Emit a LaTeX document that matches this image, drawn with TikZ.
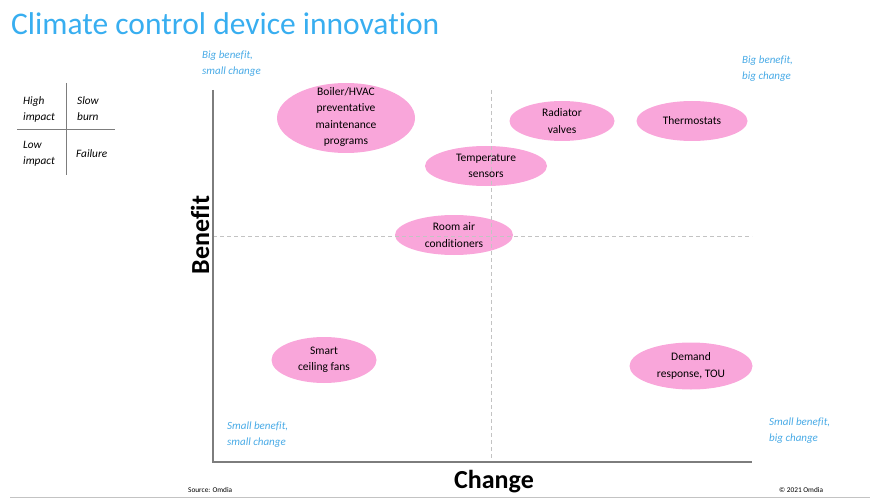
\documentclass[tikz,border=0pt]{standalone}
\usepackage{fontspec}
\setmainfont{Carlito}[Ligatures=NoCommon]
\usepackage{tikz}
\usetikzlibrary{shapes.geometric, positioning, calc}
\definecolor{titleblue}{RGB}{56, 174, 240}
\definecolor{cornerblue}{RGB}{72, 170, 230}
\definecolor{bubblepink}{RGB}{249, 166, 218}
\definecolor{axisgray}{RGB}{125, 125, 125}
\definecolor{gridgray}{RGB}{195, 195, 195}

\begin{document}
\begin{tikzpicture}[
      x=1pt, y=-1pt,
      bubble/.style  = {ellipse, fill=bubblepink, inner sep=0pt},
      bubtxt/.style  = {font=\fontsize{11.5}{16.2}\selectfont, align=center, inner sep=0pt},
      corner/.style  = {font=\fontsize{11}{16}\selectfont\itshape, color=cornerblue,
                        align=left, anchor=north west, inner sep=0pt},
      legtxt/.style  = {font=\fontsize{11.3}{16}\selectfont\itshape, align=left,
                        anchor=west, inner sep=0pt},
      axis/.style    = {draw=axisgray, line width=1.1pt},
      midline/.style = {draw=gridgray, line width=0.8pt, dash pattern=on 4pt off 3pt},
      axlbl/.style   = {font=\fontsize{26}{26}\selectfont\bfseries, inner sep=0pt},
      foot/.style    = {font=\fontsize{7.3}{8}\selectfont, anchor=west, inner sep=0pt},
    ]
    \useasboundingbox (0,0) rectangle (870,500);

    % --- Grenzen der Matrix ---
    \def\xAxis{213}
    \def\yAxis{462}
    \def\xMid{491}
    \def\yMid{236}
    \def\xEnd{752}
    \def\yTop{90}

    % --- Titel ---
    \node[font=\fontsize{31.5}{32}\selectfont, color=titleblue, anchor=base west, inner sep=0pt]
      (title) at (11,35) {Climate control device innovation};

    % --- Legende ---
    \coordinate (legtop) at (66,83);
    \coordinate (legbot) at (66,175);
    \coordinate (legleft) at (17,129);
    \coordinate (legright) at (115,129);
    \draw[axisgray, line width=0.8pt] (legtop) -- (legbot);
    \draw[axisgray, line width=0.8pt] (legleft) -- (legright);
    \node[legtxt] (high) at (23,109) {High\\impact};
    \node[legtxt] (slow) at (77,109) {Slow\\burn};
    \node[legtxt] (low)  at (23,154) {Low\\impact};
    \node[legtxt] (fail) at (76,154) {Failure};

    % --- Ecken ---
    \node[corner] (bbsc) at (202,51)  {Big benefit,\\small change};
    \node[corner] (bbbc) at (742,56)  {Big benefit,\\big change};
    \node[corner] (sbsc) at (227,422) {Small benefit,\\small change};
    \node[corner] (sbbc) at (769,418) {Small benefit,\\big change};

    % --- Blasen (erst Flaeche) ---
    \node[bubble, minimum width=138pt, minimum height=70pt] (boiler) at (346,118) {};
    \node[bubble, minimum width=105pt, minimum height=40pt] (radiator) at (562,121) {};
    \node[bubble, minimum width=111pt, minimum height=40pt] (thermo) at (692,121) {};
    \node[bubble, minimum width=122pt, minimum height=40pt] (sensors) at (486,166) {};
    \node[bubble, minimum width=118pt, minimum height=40pt] (roomac) at (454,235) {};
    \node[bubble, minimum width=105pt, minimum height=46pt] (fans) at (324,360) {};
    \node[bubble, minimum width=123pt, minimum height=47pt] (demand) at (691,366) {};

    % --- Achsen und Mittellinien ---
    \coordinate (ytop)  at (\xAxis,\yTop);
    \coordinate (orig)  at (\xAxis,\yAxis);
    \coordinate (xend)  at (\xEnd,\yAxis);
    \coordinate (mtop)  at (\xMid,\yTop);
    \coordinate (mbot)  at (\xMid,\yAxis);
    \coordinate (mleft) at (\xAxis,\yMid);
    \coordinate (mright) at (\xEnd,\yMid);
    \draw[midline] (mtop) -- (mbot);
    \draw[midline] (mleft) -- (mright);
    \draw[axis] (ytop) -- (orig) -- (xend);

    % --- Blasen (Text) ---
    \node[bubtxt] at ([yshift=1pt]boiler.center)   {Boiler/HVAC\\preventative\\maintenance\\programs};
    \node[bubtxt] at (radiator) {Radiator\\valves};
    \node[bubtxt] at (thermo)   {Thermostats};
    \node[bubtxt] at (sensors)  {Temperature\\sensors};
    \node[bubtxt] at (roomac)   {Room air\\conditioners};
    \node[bubtxt] at (fans)     {Smart\\ceiling fans};
    \node[bubtxt] at (demand)   {Demand\\response, TOU};

    % --- Achsenbeschriftung ---
    \node[axlbl, rotate=90] (benefit) at (200,235) {Benefit};
    \node[axlbl] (change) at (494,482) {Change};

    % --- Fusszeile ---
    \node[foot] (source) at (188,490) {Source: Omdia};
    \node[foot] (copy)   at (779,490) {\textcopyright{} 2021 Omdia};
    \coordinate (footl) at (10,497);
    \coordinate (footr) at (870,497);
    \draw[gridgray, line width=0.8pt] (footl) -- (footr);

  \end{tikzpicture}
\end{document}
